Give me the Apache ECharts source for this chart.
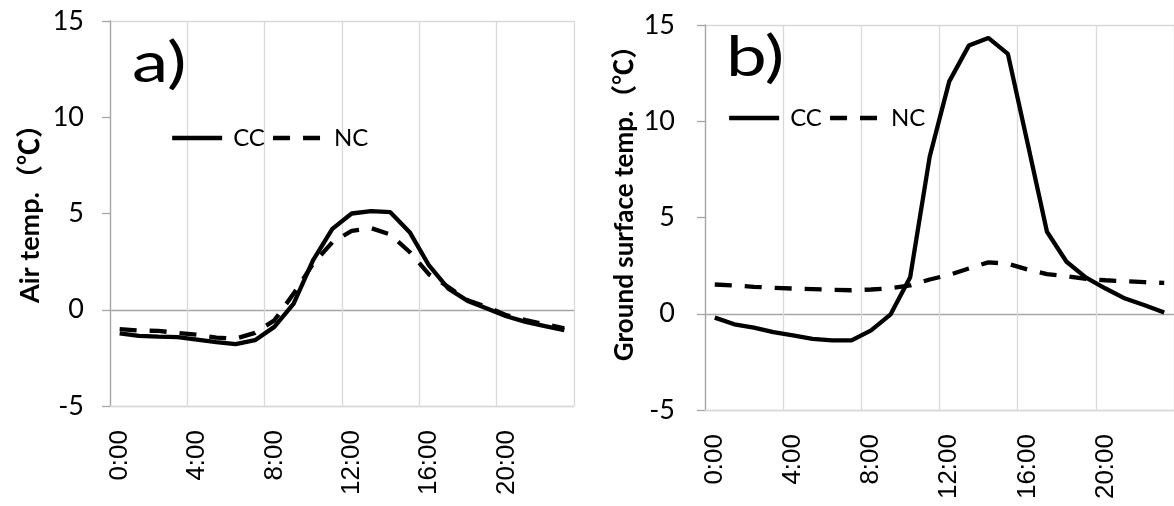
<!DOCTYPE html>
<html>
<head>
<meta charset="utf-8">
<script src="https://cdn.jsdelivr.net/npm/echarts@6/dist/echarts.min.js"></script>
<style>
html,body{margin:0;padding:0;background:#fff;}
#c{width:1174px;height:506px;}
</style>
</head>
<body>
<div id="c"></div>
<script>
const hours = ['0:00','1:00','2:00','3:00','4:00','5:00','6:00','7:00','8:00','9:00','10:00','11:00',
  '12:00','13:00','14:00','15:00','16:00','17:00','18:00','19:00','20:00','21:00','22:00','23:00'];
const seriesNames = ['CC', 'NC'];
const airCC = [-1.23,-1.36,-1.40,-1.42,-1.55,-1.68,-1.79,-1.58,-0.89,0.32,2.56,4.20,5.00,5.12,5.07,4.03,2.30,1.10,0.46,0.06,-0.34,-0.63,-0.85,-1.06];
const airNC = [-1.01,-1.08,-1.10,-1.20,-1.30,-1.45,-1.50,-1.20,-0.55,0.84,2.39,3.50,4.10,4.24,3.91,3.00,1.84,1.18,0.49,0.14,-0.28,-0.54,-0.75,-0.97];
const gndCC = [-0.20,-0.55,-0.72,-0.95,-1.12,-1.31,-1.38,-1.38,-0.86,-0.03,1.90,8.17,12.07,13.93,14.33,13.50,8.90,4.26,2.70,1.88,1.31,0.79,0.44,0.06];
const gndNC = [1.52,1.47,1.40,1.35,1.31,1.28,1.24,1.22,1.26,1.33,1.47,1.78,2.02,2.35,2.67,2.60,2.30,2.06,1.95,1.81,1.74,1.69,1.64,1.60];
const yTicks = {min: -5, max: 15, interval: 5};
const panelLabels = ['a)', 'b)'];
const yTitles = ['Air temp.（℃）', 'Ground surface temp.（℃）'];

const chart = echarts.init(document.getElementById('c'));

function xAxisFor(i){
  return {
    type:'category', gridIndex:i, data:hours, boundaryGap:true,
    axisLine:{show:true, onZero:false, lineStyle:{color:'#d9d9d9', width:1.3}},
    axisTick:{show:false},
    axisLabel:{interval:3, rotate:90, fontFamily:'Liberation Sans', fontSize:26, color:'#000', margin:24},
    splitLine:{show:true, interval:3, lineStyle:{color:'#d9d9d9', width:1.3}}
  };
}
function yAxisFor(i, margin){
  return {
    type:'value', gridIndex:i, min:yTicks.min, max:yTicks.max, interval:yTicks.interval,
    axisLine:{show:true, lineStyle:{color:'#a6a6a6', width:1.3}},
    axisTick:{show:true, length:8, lineStyle:{color:'#a6a6a6', width:1.3}},
    axisLabel:{fontFamily:'Lato', fontSize:27, color:'#000', margin:margin},
    splitLine:{show:true, lineStyle:{color:['#d9d9d9','#a6a6a6','rgba(0,0,0,0)','rgba(0,0,0,0)','#d9d9d9'], width:1.3}}
  };
}
const solid = {color:'#000', width:4.3, type:'solid'};
const dashed = {color:'#000', width:4.3, type:[17,13], cap:'butt'};
function line(name, data, i, style){
  return {name:name, type:'line', xAxisIndex:i, yAxisIndex:i, data:data,
    symbol:'none', showSymbol:false, lineStyle:style, itemStyle:{color:'#000'}, silent:true, animation:false};
}
const legendText = {fontFamily:'Lato', fontSize:24, color:'#000', padding:[0,0,0,6]};
const legendData = [
  {name:seriesNames[0], lineStyle:solid, itemStyle:{color:'rgba(0,0,0,0)', borderWidth:0, opacity:0}},
  {name:seriesNames[1], lineStyle:dashed, itemStyle:{color:'rgba(0,0,0,0)', borderWidth:0, opacity:0}}
];

chart.setOption({
  animation:false,
  backgroundColor:'#fff',
  grid:[
    {left:110, top:21, width:464, height:385},
    {left:705, top:25, width:470, height:385}
  ],
  xAxis:[xAxisFor(0), xAxisFor(1)],
  yAxis:[yAxisFor(0, 26), yAxisFor(1, 30)],
  legend:[
    {left:165, top:121, itemWidth:50, itemHeight:14, itemGap:6, data:legendData, textStyle:legendText, selectedMode:false},
    {left:722, top:101, itemWidth:50, itemHeight:14, itemGap:6, data:legendData, textStyle:legendText, selectedMode:false}
  ],
  graphic:[
    {type:'text', left:132, top:36, scaleX:1.3, style:{text:panelLabels[0], font:'56px Lato', fill:'#000'}},
    {type:'text', left:726, top:30, scaleX:1.3, style:{text:panelLabels[1], font:'56px Lato', fill:'#000'}},
    {type:'text', x:30, y:207, rotation:Math.PI/2, style:{text:yTitles[0], font:'bold 27px Lato, "Noto Sans CJK JP"', fill:'#000', align:'center', verticalAlign:'middle'}},
    {type:'text', x:625, y:197, rotation:Math.PI/2, style:{text:yTitles[1], font:'bold 26px Lato, "Noto Sans CJK JP"', fill:'#000', align:'center', verticalAlign:'middle'}}
  ],
  series:[
    line(seriesNames[0], airCC, 0, solid),
    line(seriesNames[1], airNC, 0, dashed),
    line(seriesNames[0], gndCC, 1, solid),
    line(seriesNames[1], gndNC, 1, dashed)
  ]
});
</script>
</body>
</html>
